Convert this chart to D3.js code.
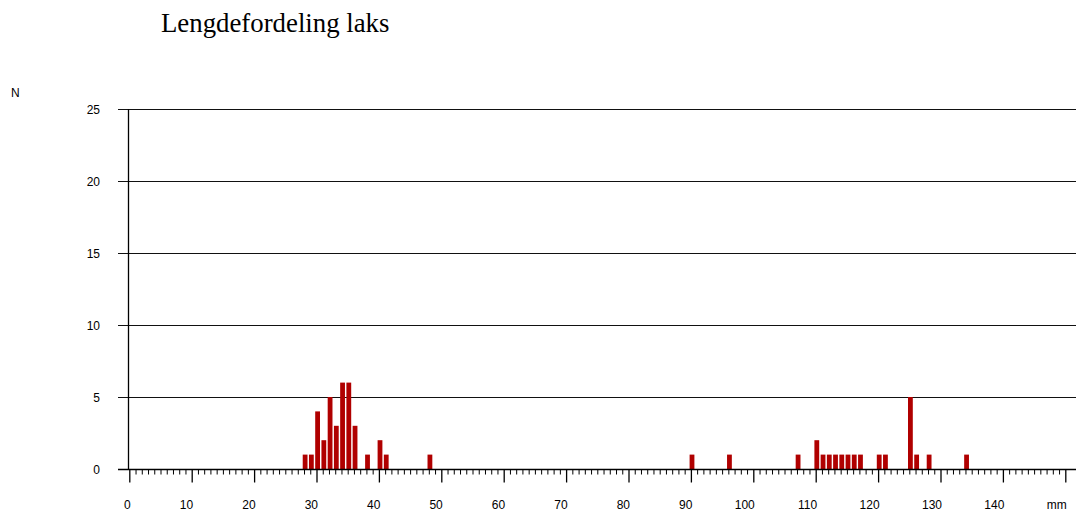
<!DOCTYPE html>
<html>
<head>
<meta charset="utf-8">
<script src="https://cdn.jsdelivr.net/npm/d3@7"></script>
<style>
  html, body { margin: 0; padding: 0; background: #fff; }
  svg { display: block; }
</style>
</head>
<body>
<svg id="chart" width="1076" height="514"></svg>
<script>
// ---- data ----
const lengthsMm = [28, 29, 30, 31, 32, 33, 34, 35, 36, 38, 40, 41, 48, 90, 96, 107, 110, 111, 112, 113, 114, 115, 116, 117, 120, 121, 125, 126, 128, 134];
const counts    = [ 1,  1,  4,  2,  5,  3,  6,  6,  3,  1,  2,  1,  1,  1,  1,   1,   2,   1,   1,   1,   1,   1,   1,   1,   1,   1,   5,   1,   1,   1];
const xTickValues = [0, 10, 20, 30, 40, 50, 60, 70, 80, 90, 100, 110, 120, 130, 140, 150];
const xTickLabels = ["0", "10", "20", "30", "40", "50", "60", "70", "80", "90", "100", "110", "120", "130", "140", "mm"];
const yTickValues = [0, 5, 10, 15, 20, 25];
const yTickLabels = ["0", "5", "10", "15", "20", "25"];
const titleText = "Lengdefordeling laks";
const yAxisTitle = "N";

const data = lengthsMm.map((mm, i) => ({ mm, n: counts[i] }));

// ---- layout ----
const svg = d3.select("#chart");
const xs = d3.scaleLinear().domain([0, 150]).range([129.3, 1065.3]);
const ys = d3.scaleLinear().domain([0, 25]).range([469, 109]);
const gridLeft = 118, gridRight = 1076;
const sansFont = "'Liberation Sans', Arial, sans-serif";

// title
svg.append("text")
  .attr("x", 161).attr("y", 32)
  .attr("font-family", "'Liberation Serif', 'Times New Roman', serif")
  .attr("font-size", 26.8)
  .attr("fill", "#000")
  .text(titleText);

// y-axis title
svg.append("text")
  .attr("x", 11).attr("y", 97)
  .attr("font-family", sansFont)
  .attr("font-size", 12)
  .attr("fill", "#000")
  .text(yAxisTitle);

// horizontal grid lines
svg.append("g").selectAll("line")
  .data(yTickValues)
  .join("line")
  .attr("x1", gridLeft).attr("x2", gridRight)
  .attr("y1", d => Math.round(ys(d)) + 0.5)
  .attr("y2", d => Math.round(ys(d)) + 0.5)
  .attr("stroke", "#111").attr("stroke-width", 1);

// y tick labels
svg.append("g").selectAll("text")
  .data(yTickValues)
  .join("text")
  .attr("x", 100)
  .attr("y", d => ys(d) + 4.5)
  .attr("text-anchor", "end")
  .attr("font-family", sansFont)
  .attr("font-size", 12)
  .attr("fill", "#000")
  .text((d, i) => yTickLabels[i]);

// bars
svg.append("g").selectAll("rect")
  .data(data)
  .join("rect")
  .attr("x", d => xs(d.mm) - 1.3)
  .attr("width", 4.8)
  .attr("y", d => ys(d.n))
  .attr("height", d => ys(0) - ys(d.n))
  .attr("fill", "#b00000");

// y axis line
svg.append("line")
  .attr("x1", 128.5).attr("x2", 128.5)
  .attr("y1", ys(25)).attr("y2", ys(0) + 1)
  .attr("stroke", "#000").attr("stroke-width", 1.3);

// x axis: minor ticks
const minorTicks = d3.range(0, 151, 1).filter(v => v % 10 !== 0);
const axisY = Math.round(ys(0)) + 0.5;
const xAxisMinor = d3.axisBottom(xs).tickValues(minorTicks).tickSize(5).tickFormat("").tickSizeOuter(0);
const gMinor = svg.append("g").attr("transform", `translate(0,${axisY})`).call(xAxisMinor);
gMinor.select(".domain").remove();
gMinor.selectAll(".tick line").attr("stroke", "#000").attr("stroke-width", 1);

// x axis: major ticks + labels
const xAxisMajor = d3.axisBottom(xs).tickValues(xTickValues).tickSize(13)
  .tickFormat((d, i) => xTickLabels[i]).tickSizeOuter(0);
const gMajor = svg.append("g").attr("transform", `translate(0,${axisY})`).call(xAxisMajor);
gMajor.select(".domain").remove();
gMajor.selectAll(".tick line").attr("stroke", "#000").attr("stroke-width", 1.3);
gMajor.selectAll(".tick text")
  .attr("y", 39).attr("dy", 0)
  .attr("dx", 1)
  .attr("text-anchor", "end")
  .attr("font-family", sansFont)
  .attr("font-size", 12)
  .attr("fill", "#000");

// baseline
svg.append("line")
  .attr("x1", gridLeft).attr("x2", gridRight)
  .attr("y1", axisY).attr("y2", axisY)
  .attr("stroke", "#000").attr("stroke-width", 1.3);
</script>
</body>
</html>
